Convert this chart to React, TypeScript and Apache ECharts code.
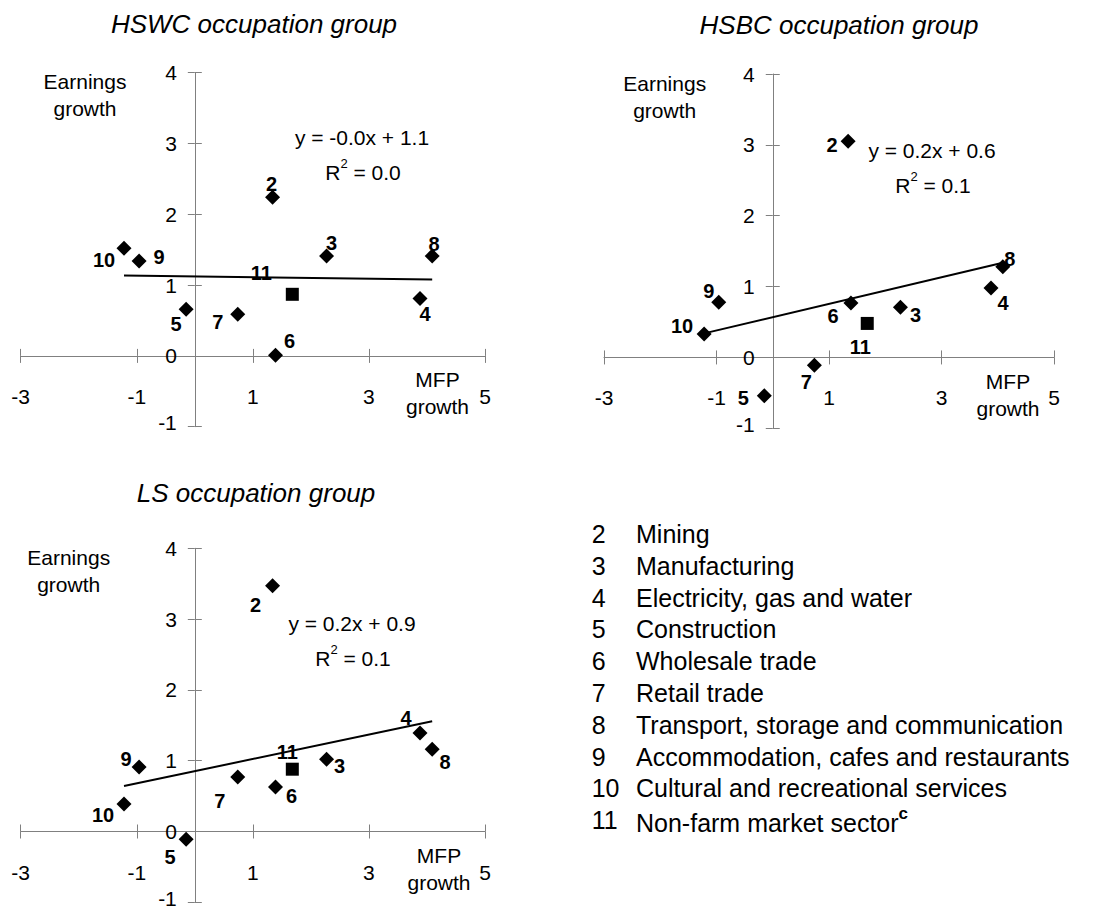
import React, { useEffect, useRef } from 'react';
import * as echarts from 'echarts';

// ---------- DATA ----------
const industryCodes = ['2', '3', '4', '5', '6', '7', '8', '9', '10'];
const industryNames = [
  'Mining',
  'Manufacturing',
  'Electricity, gas and water',
  'Construction',
  'Wholesale trade',
  'Retail trade',
  'Transport, storage and communication',
  'Accommodation, cafes and restaurants',
  'Cultural and recreational services',
];
const marketCode = '11';
const marketName = 'Non-farm market sector';
const marketNote = 'c';

// MFP growth by industry (same for each occupation group)
const mfpGrowth = [1.34, 2.27, 3.88, -0.15, 1.39, 0.74, 4.09, -0.96, -1.22];
const marketMfpGrowth = 1.68;

// Earnings growth by industry for each occupation group
const hswcEarnings = [2.24, 1.41, 0.81, 0.66, 0.01, 0.59, 1.41, 1.34, 1.52];
const hsbcEarnings = [3.05, 0.71, 0.98, -0.54, 0.77, -0.11, 1.28, 0.78, 0.33];
const lsEarnings = [3.47, 1.02, 1.39, -0.11, 0.63, 0.77, 1.16, 0.91, 0.39];
const hswcMarketEarnings = 0.87;
const hsbcMarketEarnings = 0.48;
const lsMarketEarnings = 0.88;

const panelTitles = ['HSWC occupation group', 'HSBC occupation group', 'LS occupation group'];
const xTickValues = [-3, -1, 1, 3, 5];
const yAxisMin = -1;
const yAxisMax = 4;
const xAxisMin = -3;
const xAxisMax = 5;
const yAxisName = ['Earnings', 'growth'];
const xAxisName = ['MFP', 'growth'];

// ---------- LAYOUT / STYLE ----------
const FONT = '"Liberation Sans", Arial, Helvetica, sans-serif';
const AXIS_GRAY = '#808080';

const panelLayouts = [
  { left: 20.7, top: 72.7, width: 464.3, height: 354, titleX: 254, titleY: 24, earnX: 85, earnY: 95, mfpX: 437.5, mfpY: 393, eqX: 362, eqY: 137 },
  { left: 604, top: 74, width: 450, height: 354.3, titleX: 839, titleY: 25, earnX: 664.7, earnY: 96.5, mfpX: 1008, mfpY: 395, eqX: 932, eqY: 150 },
  { left: 20.7, top: 548.3, width: 464.3, height: 354, titleX: 256, titleY: 493, earnX: 68.7, earnY: 571, mfpX: 439, mfpY: 869, eqX: 352, eqY: 623 },
];

const labelOffsets = [
  [[-1, -13], [5, -13], [5, 15], [-10, 15], [14, -14], [-20, 8], [2, -12], [20, -4], [-20, 12]],
  [[-16, 4], [15, 8], [12, 15], [-21, 2], [-18, 13], [-8, 17], [7, -8], [-10, -11], [-22, -8]],
  [[-17, 19], [13, 7], [-14, -15], [-16, 18], [16, 9], [-18, 24], [13, 13], [-13, -8], [-21, 11]],
];
const marketLabelOffsets = [[-31, -21], [-7, 24], [-5, -17]];

const legendNumX = 591.7;
const legendTextX = 636;
const legendTop = 534;
const legendStep = 31.8;

function regression(xs: number[], ys: number[]) {
  const n = xs.length;
  const mx = xs.reduce((a, b) => a + b, 0) / n;
  const my = ys.reduce((a, b) => a + b, 0) / n;
  let sxy = 0, sxx = 0, syy = 0;
  for (let i = 0; i < n; i++) {
    sxy += (xs[i] - mx) * (ys[i] - my);
    sxx += (xs[i] - mx) ** 2;
    syy += (ys[i] - my) ** 2;
  }
  const slope = sxy / sxx;
  const intercept = my - slope * mx;
  const r2 = (sxy * sxy) / (sxx * syy);
  return { slope, intercept, r2 };
}

export default function App() {
  const ref = useRef<HTMLDivElement>(null);

  useEffect(() => {
    document.body.style.margin = '0';
    if (!ref.current) return;
    const chart = echarts.init(ref.current, undefined, { renderer: 'svg' });

    const earningsSets = [hswcEarnings, hsbcEarnings, lsEarnings];
    const marketSets = [hswcMarketEarnings, hsbcMarketEarnings, lsMarketEarnings];

    const grids: any[] = [];
    const xAxes: any[] = [];
    const yAxes: any[] = [];
    const series: any[] = [];
    const graphics: any[] = [];

    const textBase = { fontFamily: FONT, fill: '#000' };
    const tickStyle = { color: AXIS_GRAY, width: 1 };
    const lineStyle = { color: AXIS_GRAY, width: 1 };
    const hidden = (gi: number, min: number, max: number) => ({
      type: 'value', gridIndex: gi, min, max, show: false,
      axisLine: { show: false, onZero: false }, splitLine: { show: false },
    });

    panelLayouts.forEach((L, i) => {
      const xSpan = xAxisMax - xAxisMin;
      const ySpan = yAxisMax - yAxisMin;
      const x0 = L.left + ((0 - xAxisMin) / xSpan) * L.width;
      const y0 = L.top + ((yAxisMax - 0) / ySpan) * L.height;
      const gBase = 5 * i;

      // 0: main plotting grid
      grids.push({ left: L.left, top: L.top, width: L.width, height: L.height, outerBoundsMode: 'none', containLabel: false });
      xAxes.push(hidden(gBase, xAxisMin, xAxisMax));
      yAxes.push(hidden(gBase, yAxisMin, yAxisMax));

      // 1: upper half -> x axis along y=0 with downward ticks and labels
      grids.push({ left: L.left, top: L.top, width: L.width, height: y0 - L.top, outerBoundsMode: 'none', containLabel: false });
      xAxes.push({
        type: 'value', gridIndex: gBase + 1, min: xAxisMin, max: xAxisMax, position: 'bottom',
        splitLine: { show: false },
        axisLine: { show: true, onZero: false, lineStyle },
        axisTick: { show: true, length: 7, customValues: xTickValues, lineStyle: tickStyle },
        axisLabel: { show: true, customValues: xTickValues, margin: 30, fontSize: 21, fontFamily: FONT, color: '#000' },
      });
      yAxes.push(hidden(gBase + 1, 0, yAxisMax));

      // 2: lower half -> x axis along y=0 with upward ticks
      grids.push({ left: L.left, top: y0, width: L.width, height: L.top + L.height - y0, outerBoundsMode: 'none', containLabel: false });
      xAxes.push({
        type: 'value', gridIndex: gBase + 2, min: xAxisMin, max: xAxisMax, position: 'top',
        splitLine: { show: false },
        axisLine: { show: false, onZero: false },
        axisTick: { show: true, length: 7, customValues: xTickValues, lineStyle: tickStyle },
        axisLabel: { show: false },
      });
      yAxes.push(hidden(gBase + 2, yAxisMin, 0));

      // 3: right part -> y axis along x=0 with leftward ticks and labels
      grids.push({ left: x0, top: L.top, width: L.left + L.width - x0, height: L.height, outerBoundsMode: 'none', containLabel: false });
      xAxes.push(hidden(gBase + 3, 0, xAxisMax));
      yAxes.push({
        type: 'value', gridIndex: gBase + 3, min: yAxisMin, max: yAxisMax, interval: 1, position: 'left',
        splitLine: { show: false },
        axisLine: { show: true, onZero: false, lineStyle },
        axisTick: { show: true, length: 7, lineStyle: tickStyle },
        axisLabel: {
          show: true, margin: 18, fontSize: 21, fontFamily: FONT, color: '#000',
          formatter: (v: number) => (v === yAxisMin ? `{low|${v}}` : `${v}`),
          rich: { low: { fontSize: 21, fontFamily: FONT, color: '#000', padding: [0, 0, 8, 0] } },
        },
      });

      // 4: left part -> y axis along x=0 with rightward ticks
      grids.push({ left: L.left, top: L.top, width: x0 - L.left, height: L.height, outerBoundsMode: 'none', containLabel: false });
      xAxes.push(hidden(gBase + 4, xAxisMin, 0));
      yAxes.push({
        type: 'value', gridIndex: gBase + 4, min: yAxisMin, max: yAxisMax, interval: 1, position: 'right',
        splitLine: { show: false },
        axisLine: { show: false, onZero: false },
        axisTick: { show: true, length: 7, lineStyle: tickStyle },
        axisLabel: { show: false },
      });

      const earn = earningsSets[i];
      const reg = regression(mfpGrowth, earn);
      const minX = Math.min(...mfpGrowth);
      const maxX = Math.max(...mfpGrowth);

      series.push({
        type: 'line', xAxisIndex: gBase, yAxisIndex: gBase, silent: true,
        showSymbol: false, symbol: 'none',
        lineStyle: { color: '#000', width: 2 },
        data: [[minX, reg.intercept + reg.slope * minX], [maxX, reg.intercept + reg.slope * maxX]],
        z: 2,
      });

      const labelBase = {
        show: true, position: 'inside', formatter: '{b}', color: '#000', opacity: 1,
        fontWeight: 'bold', fontSize: 20, fontFamily: FONT,
      };
      series.push({
        type: 'scatter', xAxisIndex: gBase, yAxisIndex: gBase, symbol: 'diamond', symbolSize: 15,
        itemStyle: { color: '#000', opacity: 1 },
        label: labelBase,
        data: industryCodes.map((c, k) => ({
          name: c, value: [mfpGrowth[k], earn[k]], label: { offset: labelOffsets[i][k] },
        })),
        z: 3,
      });
      series.push({
        type: 'scatter', xAxisIndex: gBase, yAxisIndex: gBase, symbol: 'rect', symbolSize: 13,
        itemStyle: { color: '#000', opacity: 1 },
        label: labelBase,
        data: [{ name: marketCode, value: [marketMfpGrowth, marketSets[i]], label: { offset: marketLabelOffsets[i] } }],
        z: 3,
      });

      // Title
      graphics.push({
        type: 'text', x: L.titleX, y: L.titleY,
        style: { ...textBase, text: panelTitles[i], fontSize: 26, fontStyle: 'italic', align: 'center', verticalAlign: 'middle' },
      });
      // Axis names
      graphics.push({
        type: 'text', x: L.earnX, y: L.earnY,
        style: { ...textBase, text: yAxisName.join('\n'), fontSize: 21, lineHeight: 27, align: 'center', verticalAlign: 'middle' },
      });
      graphics.push({
        type: 'text', x: L.mfpX, y: L.mfpY,
        style: { ...textBase, text: xAxisName.join('\n'), fontSize: 21, lineHeight: 27, align: 'center', verticalAlign: 'middle' },
      });
      // Equation
      const sign = reg.slope < 0 ? '-' : '';
      const eq = `y = ${sign}${Math.abs(reg.slope).toFixed(1)}x + ${reg.intercept.toFixed(1)}`;
      graphics.push({
        type: 'text', x: L.eqX, y: L.eqY,
        style: { ...textBase, text: eq, fontSize: 21, align: 'center', verticalAlign: 'middle' },
      });
      graphics.push({
        type: 'text', x: L.eqX + 1, y: L.eqY + 33,
        style: {
          ...textBase,
          text: `{t|R}{s|2}{t| = ${reg.r2.toFixed(1)}}`,
          align: 'center', verticalAlign: 'middle',
          rich: {
            t: { fontSize: 21, fontFamily: FONT, fill: '#000', color: '#000', lineHeight: 26, verticalAlign: 'bottom' },
            s: { fontSize: 13, fontFamily: FONT, fill: '#000', color: '#000', lineHeight: 26, verticalAlign: 'top' },
          },
        },
      });
    });

    // Legend list
    const legendCodes = [...industryCodes, marketCode];
    const legendNames = [...industryNames, marketName];
    legendCodes.forEach((c, k) => {
      const y = legendTop + k * legendStep;
      graphics.push({
        type: 'text', x: legendNumX, y,
        style: { ...textBase, text: c, fontSize: 25, align: 'left', verticalAlign: 'middle' },
      });
      if (c === marketCode) {
        graphics.push({
          type: 'text', x: legendTextX, y,
          style: {
            ...textBase,
            text: `{n|${legendNames[k]}}{s|${marketNote}}`,
            align: 'left', verticalAlign: 'middle',
            rich: {
              n: { fontSize: 25, fontFamily: FONT, color: '#000', lineHeight: 30, verticalAlign: 'bottom' },
              s: { fontSize: 17, fontFamily: FONT, fontWeight: 'bold', color: '#000', lineHeight: 30, verticalAlign: 'top' },
            },
          },
        });
      } else {
        graphics.push({
          type: 'text', x: legendTextX, y,
          style: { ...textBase, text: legendNames[k], fontSize: 25, align: 'left', verticalAlign: 'middle' },
        });
      }
    });

    chart.setOption({
      animation: false,
      backgroundColor: '#fff',
      grid: grids,
      xAxis: xAxes,
      yAxis: yAxes,
      series,
      graphic: graphics,
    });

    return () => chart.dispose();
  }, []);

  return <div ref={ref} style={{ width: 1101, height: 910 }} />;
}
